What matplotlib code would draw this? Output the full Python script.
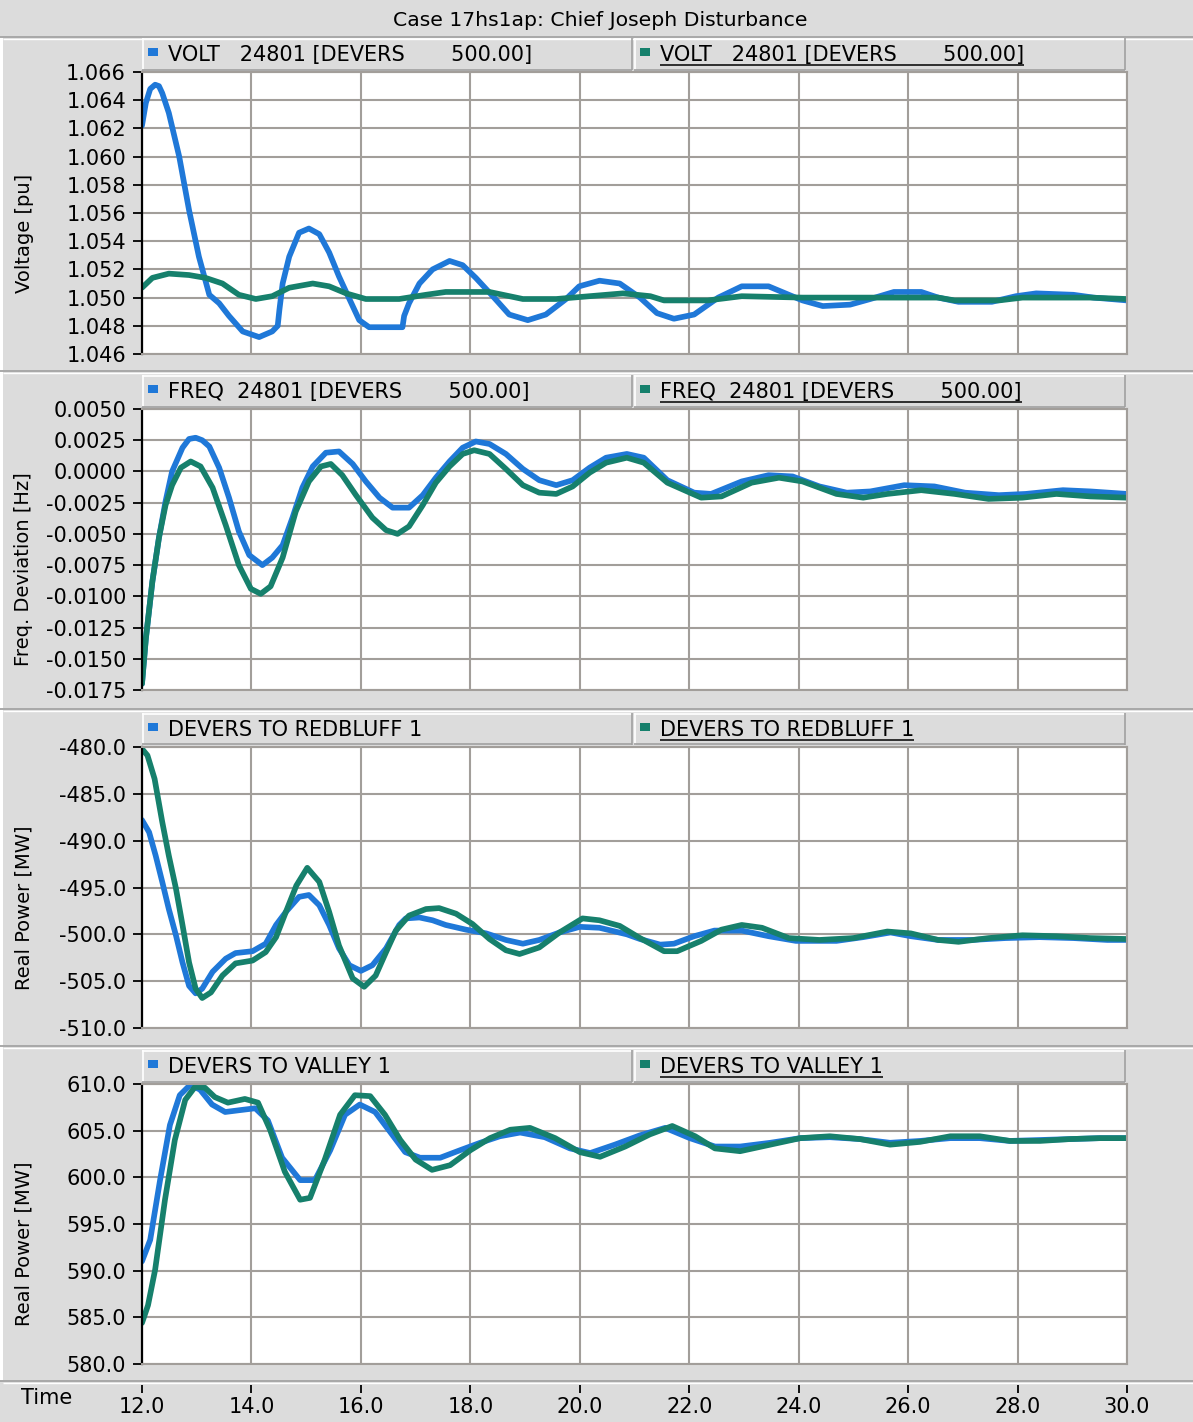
import numpy as np
import matplotlib
matplotlib.use("Agg")
import matplotlib.pyplot as plt
from matplotlib.lines import Line2D
from matplotlib.patches import Rectangle
from matplotlib.ticker import FormatStrFormatter

plt.rcParams['font.family'] = ['DejaVu Sans']
plt.rcParams['axes.unicode_minus'] = False

W, H = 1193, 1422
BG = '#dcdcdc'
GRID = '#a29e9a'
BLUE = '#1f78d8'
GREEN = '#16806c'
FS = 15
LW = 4.1

# --- bus voltage, DEVERS 500 kV ---
volt_t_blue = [12.00, 12.07, 12.15, 12.24, 12.31, 12.37, 12.49, 12.68, 12.86, 13.04, 13.23, 13.41, 13.59,
               13.84, 14.14, 14.38, 14.48, 14.51, 14.57, 14.69, 14.87, 15.05, 15.24, 15.42, 15.60, 15.79,
               15.97, 16.15, 16.76, 16.79, 16.88, 17.07, 17.31, 17.62, 17.86, 18.10, 18.41, 18.71, 19.05,
               19.38, 19.75, 19.99, 20.36, 20.73, 21.10, 21.41, 21.72, 22.09, 22.53, 22.96, 23.45, 23.82,
               24.07, 24.44, 24.94, 25.31, 25.74, 26.24, 26.55, 26.92, 27.53, 27.97, 28.34, 29.02, 29.39,
               30.00]
volt_blue = [1.0622, 1.0638, 1.0648, 1.0651, 1.0650, 1.0645, 1.0631, 1.0600, 1.0562, 1.0529, 1.0502, 1.0496,
             1.0487, 1.0476, 1.0472, 1.0476, 1.0480, 1.0491, 1.0510, 1.0529, 1.0546, 1.0549, 1.0545, 1.0532,
             1.0515, 1.0499, 1.0484, 1.0479, 1.0479, 1.0487, 1.0496, 1.0510, 1.0520, 1.0526, 1.0523, 1.0514,
             1.0501, 1.0488, 1.0484, 1.0488, 1.0499, 1.0508, 1.0512, 1.0510, 1.0500, 1.0489, 1.0485, 1.0488,
             1.0500, 1.0508, 1.0508, 1.0502, 1.0498, 1.0494, 1.0495, 1.0499, 1.0504, 1.0504, 1.0500, 1.0497,
             1.0497, 1.0501, 1.0503, 1.0502, 1.0500, 1.0498]
volt_t_green = [12.00, 12.19, 12.49, 12.86, 13.16, 13.47, 13.77, 14.08, 14.38, 14.69, 15.12, 15.42, 15.73,
                16.09, 16.70, 17.19, 17.55, 18.35, 18.96, 19.57, 20.18, 20.79, 21.29, 21.54, 22.34, 22.96,
                24.07, 25.31, 26.55, 26.85, 27.66, 28.09, 29.02, 29.33, 30.00]
volt_green = [1.0507, 1.0514, 1.0517, 1.0516, 1.0514, 1.0510, 1.0502, 1.0499, 1.0501, 1.0507, 1.0510, 1.0508,
              1.0503, 1.0499, 1.0499, 1.0502, 1.0504, 1.0504, 1.0499, 1.0499, 1.0501, 1.0503, 1.0501, 1.0498,
              1.0498, 1.0501, 1.0500, 1.0500, 1.0500, 1.0498, 1.0498, 1.0500, 1.0500, 1.0500, 1.0499]

# --- frequency deviation ---
freq_t_blue = [12.00, 12.07, 12.19, 12.31, 12.43, 12.55, 12.74, 12.86, 12.98, 13.10, 13.23, 13.41, 13.59,
               13.77, 13.96, 14.20, 14.38, 14.57, 14.75, 14.93, 15.12, 15.36, 15.60, 15.85, 16.09, 16.34,
               16.58, 16.88, 17.13, 17.37, 17.62, 17.86, 18.10, 18.35, 18.65, 18.96, 19.26, 19.57, 19.87,
               20.18, 20.48, 20.86, 21.17, 21.60, 22.09, 22.40, 22.96, 23.45, 23.89, 24.38, 24.88, 25.31,
               25.93, 26.48, 27.04, 27.66, 28.15, 28.83, 29.33, 30.00]
freq_blue = [-0.0170, -0.0134, -0.0088, -0.0053, -0.0024, 0.0000, 0.0019, 0.0026, 0.0027, 0.0025, 0.0020,
             0.0003, -0.0021, -0.0048, -0.0067, -0.0075, -0.0069, -0.0059, -0.0037, -0.0013, 0.0004, 0.0015,
             0.0016, 0.0006, -0.0008, -0.0021, -0.0029, -0.0029, -0.0019, -0.0005, 0.0008, 0.0019, 0.0024,
             0.0022, 0.0014, 0.0002, -0.0007, -0.0011, -0.0007, 0.0003, 0.0011, 0.0014, 0.0011, -0.0007,
             -0.0017, -0.0018, -0.0008, -0.0003, -0.0004, -0.0012, -0.0017, -0.0016, -0.0011, -0.0012,
             -0.0017, -0.0019, -0.0018, -0.0015, -0.0016, -0.0018]
freq_t_green = [12.00, 12.07, 12.19, 12.31, 12.43, 12.55, 12.71, 12.89, 13.07, 13.29, 13.53, 13.77, 13.99,
                14.17, 14.35, 14.57, 14.81, 15.05, 15.27, 15.45, 15.66, 15.91, 16.21, 16.46, 16.67, 16.88,
                17.13, 17.37, 17.62, 17.86, 18.07, 18.35, 18.65, 18.96, 19.26, 19.57, 19.87, 20.18, 20.48,
                20.86, 21.17, 21.60, 22.22, 22.59, 23.14, 23.64, 24.07, 24.69, 25.18, 25.62, 26.24, 26.85,
                27.47, 28.09, 28.71, 29.33, 30.00]
freq_green = [-0.0170, -0.0134, -0.0088, -0.0053, -0.0027, -0.0011, 0.0003, 0.0008, 0.0004, -0.0013, -0.0043,
              -0.0075, -0.0094, -0.0098, -0.0092, -0.0069, -0.0032, -0.0008, 0.0004, 0.0006, -0.0003, -0.0019,
              -0.0037, -0.0047, -0.0050, -0.0044, -0.0027, -0.0009, 0.0004, 0.0014, 0.0017, 0.0014, 0.0002,
              -0.0011, -0.0017, -0.0018, -0.0012, -0.0001, 0.0007, 0.0011, 0.0007, -0.0009, -0.0021, -0.0020,
              -0.0009, -0.0005, -0.0008, -0.0018, -0.0021, -0.0018, -0.0015, -0.0018, -0.0022, -0.0021,
              -0.0018, -0.0020, -0.0021]

# --- DEVERS to REDBLUFF 1, real power ---
rb_t_blue = [12.00, 12.13, 12.25, 12.37, 12.49, 12.62, 12.74, 12.86, 12.98, 13.10, 13.29, 13.53, 13.71,
             14.02, 14.26, 14.45, 14.63, 14.87, 15.05, 15.24, 15.42, 15.60, 15.79, 16.00, 16.21, 16.46,
             16.70, 16.82, 17.07, 17.31, 17.55, 17.92, 18.29, 18.65, 18.96, 19.26, 19.63, 20.00, 20.36,
             20.86, 21.10, 21.47, 21.72, 22.09, 22.46, 22.96, 23.45, 23.95, 24.69, 25.18, 25.68, 26.05,
             26.55, 27.16, 27.78, 28.40, 29.02, 29.64, 30.00]
rb_blue = [-487.8, -489.1, -491.6, -494.4, -497.3, -500.1, -503.0, -505.5, -506.3, -505.8, -504.0, -502.6,
           -502.0, -501.8, -501.0, -499.0, -497.6, -496.0, -495.8, -496.9, -499.0, -501.5, -503.3, -503.9,
           -503.3, -501.5, -499.0, -498.3, -498.2, -498.5, -499.0, -499.5, -499.9, -500.6, -501.0, -500.6,
           -499.8, -499.2, -499.3, -500.0, -500.5, -501.1, -501.0, -500.2, -499.6, -499.6, -500.2, -500.7,
           -500.7, -500.3, -499.8, -500.2, -500.6, -500.6, -500.4, -500.3, -500.4, -500.6, -500.6]
rb_t_green = [12.00, 12.10, 12.23, 12.37, 12.49, 12.62, 12.74, 12.86, 12.98, 13.10, 13.26, 13.47, 13.71,
              14.02, 14.26, 14.45, 14.63, 14.82, 15.02, 15.24, 15.42, 15.60, 15.85, 16.06, 16.27, 16.46,
              16.64, 16.88, 17.19, 17.43, 17.74, 18.04, 18.35, 18.65, 18.90, 19.26, 19.63, 20.05, 20.36,
              20.73, 21.10, 21.54, 21.78, 22.22, 22.59, 22.96, 23.33, 23.82, 24.38, 25.00, 25.62, 26.05,
              26.55, 26.92, 27.47, 28.09, 28.71, 29.33, 30.00]
rb_green = [-480.2, -480.9, -483.4, -488.0, -491.6, -495.1, -499.0, -503.0, -505.8, -506.8, -506.2, -504.4,
            -503.1, -502.8, -501.9, -500.3, -497.6, -494.8, -492.9, -494.4, -497.6, -501.2, -504.7, -505.6,
            -504.4, -501.9, -499.6, -498.0, -497.3, -497.2, -497.8, -498.9, -500.5, -501.7, -502.1, -501.4,
            -499.8, -498.3, -498.5, -499.1, -500.4, -501.8, -501.8, -500.7, -499.5, -499.0, -499.3, -500.4,
            -500.6, -500.4, -499.7, -499.9, -500.6, -500.8, -500.4, -500.1, -500.2, -500.4, -500.5]

# --- DEVERS to VALLEY 1, real power ---
va_t_blue = [12.00, 12.15, 12.33, 12.51, 12.69, 12.88, 13.06, 13.28, 13.52, 13.79, 14.07, 14.30, 14.56,
             14.89, 15.16, 15.44, 15.71, 15.98, 16.26, 16.53, 16.81, 17.08, 17.45, 17.81, 18.18, 18.54,
             18.91, 19.36, 19.82, 20.19, 20.64, 21.10, 21.56, 22.01, 22.47, 22.93, 23.48, 24.03, 24.57,
             25.12, 25.67, 26.22, 26.77, 27.31, 27.86, 28.41, 28.96, 29.51, 30.00]
va_blue = [591.0, 593.3, 599.7, 605.6, 608.8, 609.9, 609.4, 607.8, 607.0, 607.2, 607.4, 606.1, 602.1, 599.7,
           599.7, 602.9, 606.7, 607.8, 607.0, 604.9, 602.7, 602.1, 602.1, 602.9, 603.7, 604.4, 604.8, 604.3,
           603.1, 602.6, 603.5, 604.5, 605.3, 604.2, 603.3, 603.3, 603.7, 604.2, 604.3, 604.1, 603.7, 603.9,
           604.2, 604.2, 603.9, 604.0, 604.1, 604.2, 604.2]
va_t_green = [12.00, 12.11, 12.24, 12.42, 12.60, 12.79, 12.97, 13.15, 13.33, 13.57, 13.88, 14.12, 14.34,
              14.61, 14.89, 15.07, 15.34, 15.62, 15.89, 16.17, 16.44, 16.72, 17.00, 17.30, 17.63, 18.00,
              18.36, 18.73, 19.09, 19.55, 20.00, 20.37, 20.83, 21.28, 21.69, 22.11, 22.47, 22.93, 23.48,
              24.03, 24.57, 25.12, 25.67, 26.22, 26.77, 27.31, 27.86, 28.41, 28.96, 29.51, 30.00]
va_green = [584.4, 586.3, 590.1, 597.6, 604.0, 608.3, 609.7, 609.6, 608.6, 608.0, 608.4, 608.0, 605.1, 600.6,
            597.6, 597.8, 601.9, 606.7, 608.8, 608.7, 606.7, 604.0, 601.9, 600.8, 601.3, 602.9, 604.2, 605.1,
            605.3, 604.2, 602.7, 602.2, 603.3, 604.6, 605.5, 604.4, 603.1, 602.8, 603.5, 604.2, 604.4, 604.1,
            603.5, 603.8, 604.4, 604.4, 603.9, 603.9, 604.1, 604.2, 604.2]

time_ticks = [12, 14, 16, 18, 20, 22, 24, 26, 28, 30]

panels = [
    dict(top=72, bottom=354, ylim=(1.046, 1.066), nt=11, fmt='%.3f', ylabel='Voltage [pu]',
         label='VOLT   24801 [DEVERS       500.00]',
         blue=(volt_t_blue, volt_blue), green=(volt_t_green, volt_green)),
    dict(top=409, bottom=690, ylim=(-0.0175, 0.005), nt=10, fmt='%.4f', ylabel='Freq. Deviation [Hz]',
         label='FREQ  24801 [DEVERS       500.00]',
         blue=(freq_t_blue, freq_blue), green=(freq_t_green, freq_green)),
    dict(top=747, bottom=1028, ylim=(-510, -480), nt=7, fmt='%.1f', ylabel='Real Power [MW]',
         label='DEVERS TO REDBLUFF 1',
         blue=(rb_t_blue, rb_blue), green=(rb_t_green, rb_green)),
    dict(top=1084, bottom=1364, ylim=(580, 610), nt=7, fmt='%.1f', ylabel='Real Power [MW]',
         label='DEVERS TO VALLEY 1',
         blue=(va_t_blue, va_blue), green=(va_t_green, va_green)),
]

X0, X1 = 142, 1127
SEPS = [37, 371, 709, 1046, 1381]

fig = plt.figure(figsize=(W / 100, H / 100), dpi=100)
fig.patch.set_facecolor(BG)


def fx(px):
    return px / W


def fy(py):
    return 1 - py / H


def fline(xs, ys, color, lw):
    fig.add_artist(Line2D([fx(x) for x in xs], [fy(y) for y in ys], color=color, lw=lw,
                          solid_capstyle='butt'))


def frect(x0, y0, x1, y1, color):
    fig.add_artist(Rectangle((fx(x0), fy(y1)), fx(x1) - fx(x0), fy(y0) - fy(y1),
                             facecolor=color, edgecolor='none'))


def raised_box(x0, y0, x1, y1):
    frect(x0, y0, x1, y1, BG)
    fline([x0, x1], [y0 + 0.5, y0 + 0.5], 'white', 1.2)
    fline([x0 + 0.5, x0 + 0.5], [y0, y1], 'white', 1.2)
    fline([x0, x1], [y1 - 0.5, y1 - 0.5], '#a0a0a0', 1.2)
    fline([x1 - 0.5, x1 - 0.5], [y0, y1], '#a0a0a0', 1.2)


# window chrome: left edge strip and panel separators
frect(0, SEPS[0], 3, SEPS[-1], 'white')
for s in SEPS:
    fline([0, W], [s, s], '#a8a8a8', 1.4)
    fline([3, W], [s + 2, s + 2], 'white', 1.0)

fig.text(fx(600), fy(20), 'Case 17hs1ap: Chief Joseph Disturbance', ha='center', va='center', fontsize=14.7)

underline_texts = []
for p in panels:
    ax = fig.add_axes([fx(X0), fy(p['bottom']), fx(X1) - fx(X0), fy(p['top']) - fy(p['bottom'])])
    ax.set_facecolor('white')
    tb, vb = p['blue']
    tg, vg = p['green']
    ax.plot(tb, vb, color=BLUE, lw=LW, solid_joinstyle='round', solid_capstyle='round')
    ax.plot(tg, vg, color=GREEN, lw=LW, solid_joinstyle='round', solid_capstyle='round')
    ax.set_xlim(12, 30)
    ax.set_ylim(*p['ylim'])
    ax.set_xticks(time_ticks)
    ax.set_yticks(np.linspace(p['ylim'][0], p['ylim'][1], p['nt']))
    ax.yaxis.set_major_formatter(FormatStrFormatter(p['fmt']))
    ax.grid(True, color=GRID, lw=1.5)
    ax.set_axisbelow(True)
    ax.tick_params(axis='x', length=0, labelbottom=False)
    ax.tick_params(axis='y', length=6.5, width=1.3, color='black', pad=5, labelsize=FS)
    for side in ['top', 'right', 'bottom']:
        ax.spines[side].set_color(GRID)
        ax.spines[side].set_linewidth(1.5)
    ax.spines['left'].set_color('black')
    ax.spines['left'].set_linewidth(1.6)

    fig.text(fx(24), fy((p['top'] + p['bottom']) / 2 + 20), p['ylabel'], rotation=90,
             ha='center', va='center', fontsize=14)

    # series legend bar above each plot
    bt, bb = p['top'] - 34, p['top'] - 2
    bc = (bt + bb) / 2
    raised_box(X0, bt, 632, bb)
    raised_box(634, bt, 1125, bb)
    frect(148, bc - 6, 158, bc + 2, BLUE)
    frect(640, bc - 6, 650, bc + 2, GREEN)
    fig.text(fx(168), fy(bc + 1), p['label'], ha='left', va='center', fontsize=FS)
    t2 = fig.text(fx(660), fy(bc + 1), p['label'], ha='left', va='center', fontsize=FS)
    underline_texts.append((t2, bc))

# time axis strip along the bottom
tax = fig.add_axes([fx(X0), fy(1393), fx(X1) - fx(X0), fy(1384) - fy(1393)])
tax.patch.set_visible(False)
for side in tax.spines.values():
    side.set_visible(False)
tax.set_xlim(12, 30)
tax.set_xticks(time_ticks)
tax.xaxis.set_major_formatter(FormatStrFormatter('%.1f'))
tax.set_yticks([])
tax.tick_params(axis='x', direction='in', length=6, width=1.3, color='black', pad=3, labelsize=FS)
fig.text(fx(47), fy(1398), 'Time', ha='center', va='center', fontsize=FS)

# underline the right-hand legend entries
fig.canvas.draw()
renderer = fig.canvas.get_renderer()
for t2, bc in underline_texts:
    bb = t2.get_window_extent(renderer)
    y = bc + 11
    fline([bb.x0, bb.x1], [y, y], 'black', 1.1)

fig.savefig('out.png', dpi=100, facecolor=BG)
